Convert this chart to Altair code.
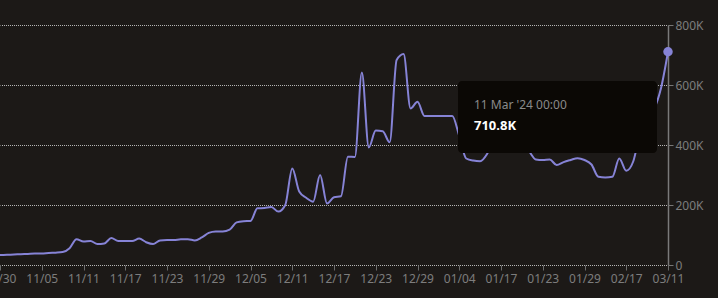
import altair as alt
import pandas as pd

# ---- data -------------------------------------------------------------
consecutive = [d.strftime("%m/%d") for d in pd.date_range("2023-10-30", "2024-01-04")]
later_dates = ["01/05", "01/07", "01/09", "01/11", "01/14", "01/17",
               "01/18", "01/19", "01/20", "01/21", "01/22", "01/23",
               "01/24", "01/25", "01/26", "01/27", "01/28", "01/29",
               "02/01", "02/05", "02/08", "02/11", "02/14", "02/17",
               "02/20", "02/24", "02/28", "03/03", "03/07", "03/11"]
dates = consecutive + later_dates

values_k = [
    33, 34, 35, 36, 37, 38, 38, 40, 41, 43,
    56, 86, 78, 80, 70, 72, 90, 80, 80, 80,
    88, 76, 70, 82, 83, 83, 86, 86, 82, 92,
    107, 112, 112, 118, 142, 146, 147, 189, 190, 193,
    178, 200, 322, 245, 224, 211, 300, 205, 226, 229,
    361, 360, 642, 392, 448, 446, 409, 683, 703, 522,
    544, 497, 497, 497, 497, 497, 430, 355, 348, 346,
    370, 420, 440, 430, 420, 400, 380, 352, 350, 352,
    333, 343, 350, 356, 350, 335, 294, 292, 294, 355,
    314, 345, 440, 490, 520, 590, 710.8,
]
values = [v * 1000 for v in values_k]

tooltip_date = "11 Mar '24 00:00"
tooltip_value = f"{values_k[-1]:.1f}K"

y_ticks = [0, 200000, 400000, 600000, 800000]

df = pd.DataFrame({"date": dates, "value": values, "idx": range(len(dates))})
last = df.tail(1)

LINE = "#8683d6"
FONT = "Noto Sans"

x_enc = alt.X(
    "date:O",
    sort=None,
    title=None,
    scale=alt.Scale(type="point", padding=0),
    axis=alt.Axis(
        values=dates[::6],
        labelAngle=0,
        labelColor="#7d7d7d",
        labelFont=FONT,
        labelFontSize=12,
        labelPadding=3,
        tickColor="#6a6a6a",
        tickSize=5,
        domain=False,
        grid=False,
    ),
)
y_enc = alt.Y(
    "value:Q",
    title=None,
    scale=alt.Scale(domain=[0, 800000], nice=False),
    axis=alt.Axis(
        orient="right",
        values=y_ticks,
        labelExpr="datum.value == 0 ? '0' : (datum.value / 1000) + 'K'",
        labelColor="#7d7d7d",
        labelFont=FONT,
        labelFontSize=12,
        labelPadding=2,
        tickColor="#777777",
        tickSize=5,
        domainColor="#7a7a7a",
        domainWidth=1.5,
        grid=True,
        gridColor="#b5b5b5",
        gridDash=[1, 1],
        gridDashOffset=0.5,
        gridWidth=1,
    ),
)

line = alt.Chart(df).mark_line(
    color=LINE, strokeWidth=2, interpolate="monotone"
).encode(x=x_enc, y=y_enc)

point = alt.Chart(last).mark_point(
    filled=True, color=LINE, size=90, opacity=1
).encode(x=x_enc, y=y_enc)

tip = pd.DataFrame({"d": [tooltip_date], "v": [tooltip_value]})
box = alt.Chart(tip).mark_rect(
    color="#0b0805", cornerRadius=4
).encode(x=alt.value(458), x2=alt.value(657), y=alt.value(56), y2=alt.value(128))
t1 = alt.Chart(tip).mark_text(
    align="left", baseline="middle", color="#8a8a8a", font=FONT, fontSize=12
).encode(x=alt.value(474), y=alt.value(80), text="d:N")
t2 = alt.Chart(tip).mark_text(
    align="left", baseline="middle", color="#ffffff", font=FONT, fontSize=13,
    fontWeight="bold"
).encode(x=alt.value(474), y=alt.value(101), text="v:N")

chart = alt.layer(line, point, box, t1, t2).properties(
    width=668,
    height=240,
    background="#1c1917",
    padding={"left": 0, "top": 25, "right": 50, "bottom": 33},
    autosize=alt.AutoSizeParams(type="none"),
).configure_view(stroke=None)

chart.save("out.html", embed_options={"renderer": "svg", "actions": False})
